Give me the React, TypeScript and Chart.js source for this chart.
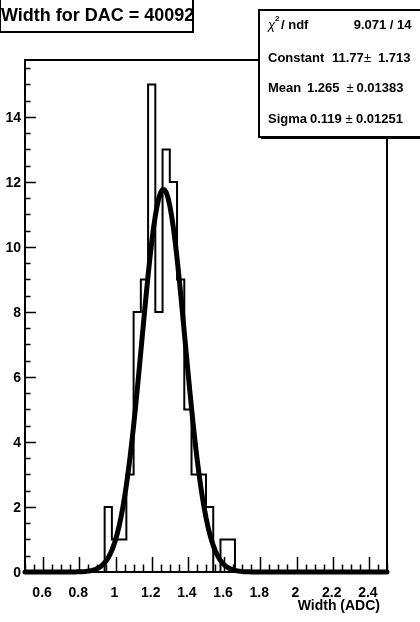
import React, { useEffect, useRef } from "react";
import { Chart, registerables } from "chart.js";

Chart.register(...registerables);

// ---------- data ----------
const TITLE = "Width for DAC = 40092";
const X_TITLE = "Width (ADC)";
const X_RANGE = [0.5, 2.5];
const Y_MAX = 15.75;
const BIN_WIDTH = 0.04;
const BIN_LOW = [0.90, 0.94, 0.98, 1.02, 1.06, 1.10, 1.14, 1.18, 1.22, 1.26, 1.30, 1.34, 1.38, 1.42, 1.46, 1.50, 1.54, 1.58, 1.62, 1.66];
const COUNTS = [0, 2, 1, 1, 3, 8, 9, 15, 8, 13, 12, 9, 5, 3, 3, 2, 0, 1, 1, 0];
const X_TICKS = [0.6, 0.8, 1, 1.2, 1.4, 1.6, 1.8, 2, 2.2, 2.4];
const Y_TICKS = [0, 2, 4, 6, 8, 10, 12, 14];
const X_MINOR_STEP = 0.05;
const Y_MINOR_STEP = 0.5;
// Gaussian fit parameters (from the stats box)
const FIT_CONSTANT = 11.77;
const FIT_MEAN = 1.265;
const FIT_SIGMA = 0.119;
const FIT_STEP = 0.01;
const CHI2_TEXT = "9.071 / 14";
const STAT_NAMES = ["Constant", "Mean", "Sigma"];
const STAT_VALUES = ["11.77", "1.265", "0.119"];
const STAT_ERRORS = ["1.713", "0.01383", "0.01251"];

// ---------- derived ----------
const histPoints: { x: number; y: number }[] = [{ x: X_RANGE[0], y: 0 }];
BIN_LOW.forEach((lo, i) => histPoints.push({ x: lo, y: COUNTS[i] }));
histPoints.push({ x: BIN_LOW[BIN_LOW.length - 1] + BIN_WIDTH, y: 0 });
histPoints.push({ x: X_RANGE[1], y: 0 });

const fitPoints: { x: number; y: number }[] = [];
const nFit = Math.round((X_RANGE[1] - X_RANGE[0]) / FIT_STEP);
for (let i = 0; i <= nFit; i++) {
  const xv = X_RANGE[0] + i * FIT_STEP;
  const z = (xv - FIT_MEAN) / FIT_SIGMA;
  fitPoints.push({ x: xv, y: FIT_CONSTANT * Math.exp(-0.5 * z * z) });
}

const FONT = '"Liberation Sans", Arial, Helvetica, sans-serif';

const fmt = (v: number) => String(parseFloat(v.toFixed(2)));

const rootPlugin = {
  id: "rootStyle",
  beforeDraw(chart: any) {
    const { ctx, width, height } = chart;
    ctx.save();
    ctx.fillStyle = "#fff";
    ctx.fillRect(0, 0, width, height);
    ctx.restore();
  },
  afterDraw(chart: any) {
    const { ctx, chartArea: a } = chart;
    const xs = chart.scales.x;
    const ys = chart.scales.y;
    ctx.save();
    ctx.strokeStyle = "#000";
    ctx.fillStyle = "#000";

    // frame
    ctx.lineWidth = 2;
    ctx.strokeRect(a.left, a.top, a.right - a.left, a.bottom - a.top);

    // x ticks
    ctx.lineWidth = 1.5;
    const nx = Math.round((X_RANGE[1] - X_RANGE[0]) / X_MINOR_STEP);
    for (let i = 0; i <= nx; i++) {
      const v = X_RANGE[0] + i * X_MINOR_STEP;
      const major = X_TICKS.some((t) => Math.abs(t - v) < 1e-6);
      const px = Math.round(xs.getPixelForValue(v)) + 0.5;
      const len = major ? 15 : 7.5;
      ctx.beginPath();
      ctx.moveTo(px, a.bottom);
      ctx.lineTo(px, a.bottom - len);
      ctx.stroke();
    }
    // y ticks
    const ny = Math.floor(Y_MAX / Y_MINOR_STEP);
    for (let i = 0; i <= ny; i++) {
      const v = i * Y_MINOR_STEP;
      const major = Y_TICKS.some((t) => Math.abs(t - v) < 1e-6);
      const py = Math.round(ys.getPixelForValue(v)) + 0.5;
      const len = major ? 11 : 5.5;
      ctx.beginPath();
      ctx.moveTo(a.left, py);
      ctx.lineTo(a.left + len, py);
      ctx.stroke();
    }

    // tick labels
    ctx.font = `bold 14px ${FONT}`;
    ctx.textAlign = "center";
    ctx.textBaseline = "alphabetic";
    X_TICKS.forEach((t) => {
      ctx.fillText(fmt(t), xs.getPixelForValue(t) - 1, 597);
    });
    ctx.textAlign = "right";
    ctx.textBaseline = "middle";
    Y_TICKS.forEach((t) => {
      ctx.fillText(fmt(t), 21, ys.getPixelForValue(t) + 1);
    });
    // axis title
    ctx.textAlign = "right";
    ctx.textBaseline = "alphabetic";
    ctx.fillText(X_TITLE, 380, 610);

    // title box
    ctx.fillStyle = "#fff";
    ctx.fillRect(0, 0, 193, 32);
    ctx.fillStyle = "#000";
    ctx.font = `bold 18px ${FONT}`;
    ctx.textAlign = "left";
    ctx.fillText(TITLE, 1, 21);
    ctx.lineWidth = 2;
    ctx.strokeRect(0, -2, 193, 34);

    // stats box
    const bx = 259, by = 10, bw = 170, bh = 127;
    ctx.fillStyle = "#000";
    ctx.fillRect(bx + 2, by + bh, bw, 2);
    ctx.fillStyle = "#fff";
    ctx.fillRect(bx, by, bw, bh);
    ctx.lineWidth = 2;
    ctx.strokeRect(bx, by, bw, bh);
    ctx.fillStyle = "#000";

    // line 1: chi2 / ndf
    ctx.textAlign = "left";
    ctx.font = `italic 13px ${FONT}`;
    ctx.fillText("\u03c7", 268, 28.5);
    ctx.font = `bold 8px ${FONT}`;
    ctx.fillText("2", 275, 21);
    ctx.font = `bold 13px ${FONT}`;
    ctx.fillText("/ ndf", 281, 28.5);
    ctx.textAlign = "right";
    ctx.fillText(CHI2_TEXT, 411.5, 28.5);

    const baselines = [61.5, 92, 123];
    const valueX = [332, 307, 310];
    const pmX = [364, 346.5, 345.5];
    const errX = [378, 356.5, 356];
    STAT_NAMES.forEach((name, i) => {
      const yb = baselines[i];
      ctx.textAlign = "left";
      ctx.font = `bold 13px ${FONT}`;
      ctx.fillText(name, 268, yb);
      ctx.fillText(STAT_VALUES[i], valueX[i], yb);
      ctx.font = `13px ${FONT}`;
      ctx.fillText("\u00b1", pmX[i], yb);
      ctx.font = `bold 13px ${FONT}`;
      ctx.fillText(STAT_ERRORS[i], errX[i], yb);
    });

    ctx.restore();
  },
};

export default function App() {
  const ref = useRef<HTMLCanvasElement>(null);
  useEffect(() => {
    const chart = new Chart(ref.current as HTMLCanvasElement, {
      type: "line",
      data: {
        datasets: [
          {
            label: "fit",
            data: fitPoints,
            borderColor: "#000",
            borderWidth: 5,
            pointRadius: 0,
            tension: 0,
            fill: false,
            borderJoinStyle: "round",
            borderCapStyle: "round",
            clip: false,
            order: 0,
          } as any,
          {
            label: "hist",
            data: histPoints,
            borderColor: "#000",
            borderWidth: 2,
            pointRadius: 0,
            stepped: "before",
            fill: false,
            borderJoinStyle: "miter",
            clip: false,
            order: 1,
          } as any,
        ],
      },
      options: {
        responsive: false,
        animation: false,
        events: [],
        layout: { padding: { left: 25, top: 60, right: 33, bottom: 50 } },
        scales: {
          x: { type: "linear", min: X_RANGE[0], max: X_RANGE[1], display: false },
          y: { type: "linear", min: 0, max: Y_MAX, display: false },
        },
        plugins: {
          legend: { display: false },
          tooltip: { enabled: false },
          title: { display: false },
        },
      },
      plugins: [rootPlugin],
    });
    return () => chart.destroy();
  }, []);
  return (
    <div style={{ position: "fixed", left: 0, top: 0, width: 420, height: 622, background: "#fff" }}>
      <canvas ref={ref} width={420} height={622} style={{ display: "block", width: 420, height: 622 }} />
    </div>
  );
}
